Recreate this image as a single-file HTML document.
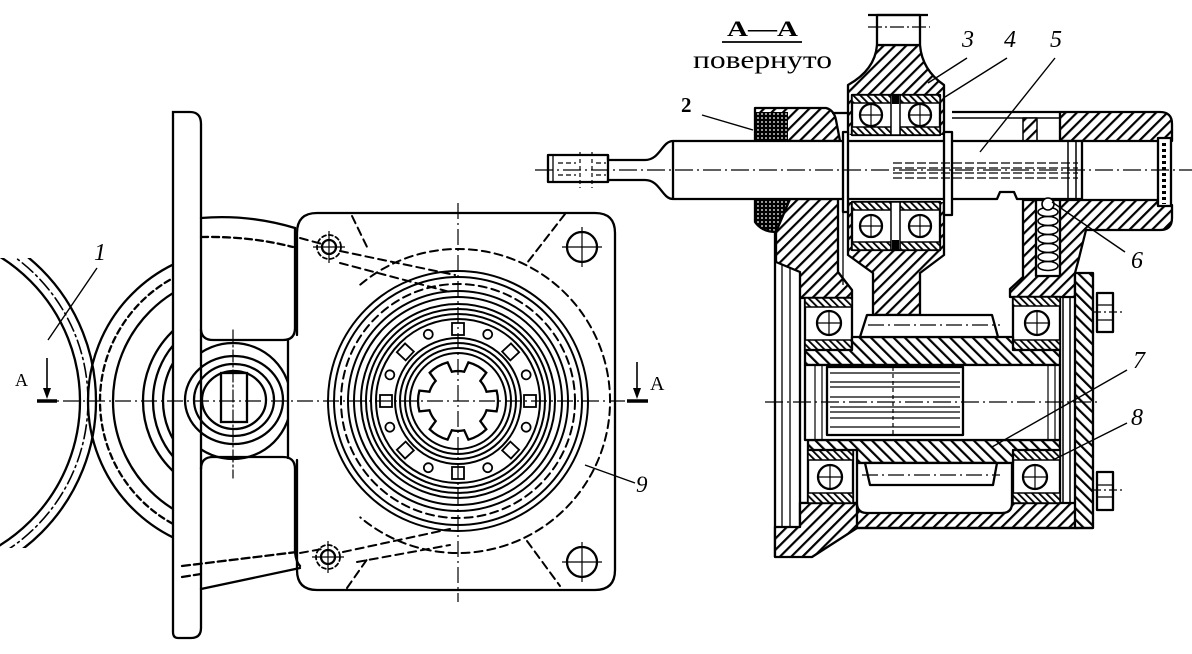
<!DOCTYPE html>
<html><head><meta charset="utf-8"><style>html,body{margin:0;padding:0;background:#fff}svg{display:block}</style></head>
<body>
<svg width="1192" height="654" viewBox="0 0 1192 654" xmlns="http://www.w3.org/2000/svg">
<defs>
<pattern id="hf" width="8" height="8" patternUnits="userSpaceOnUse" patternTransform="rotate(45)"><rect width="8" height="8" fill="#fff"/><rect x="0" y="0" width="2.2" height="8" fill="#000"/></pattern>
<pattern id="hb" width="8" height="8" patternUnits="userSpaceOnUse" patternTransform="rotate(-45)"><rect width="8" height="8" fill="#fff"/><rect x="0" y="0" width="2.2" height="8" fill="#000"/></pattern>
<pattern id="hr" width="5" height="5" patternUnits="userSpaceOnUse" patternTransform="rotate(-45)"><rect width="5" height="5" fill="#fff"/><rect x="0" y="0" width="1.8" height="5" fill="#000"/></pattern>
<pattern id="hd" width="4" height="4" patternUnits="userSpaceOnUse"><rect width="4" height="4" fill="#000"/><circle cx="2" cy="2" r="0.9" fill="#fff"/></pattern>
<clipPath id="cl1"><rect x="0" y="0" width="173" height="654"/></clipPath>
<clipPath id="cw"><rect x="0" y="258" width="140" height="290"/></clipPath>
<clipPath id="cboss"><rect x="201" y="330" width="87" height="140"/></clipPath>
</defs>

<!-- ============ LEFT VIEW ============ -->
<g fill="none" stroke="#000" stroke-width="2.3" stroke-linecap="round">
  <!-- wheel 1 arcs -->
  <g clip-path="url(#cw)">
    <circle cx="-90" cy="401" r="170"/>
    <circle cx="-90" cy="401" r="178" stroke-width="1.6" stroke-dasharray="14 4 2 4"/>
    <circle cx="-90" cy="401" r="186"/>
  </g>
  <!-- pulley arcs -->
  <g clip-path="url(#cl1)">
    <circle cx="240" cy="401" r="152"/>
    <circle cx="240" cy="401" r="140" stroke-dasharray="6 4"/>
    <circle cx="240" cy="401" r="127"/>
    <circle cx="240" cy="401" r="97"/>
    <circle cx="240" cy="401" r="87"/>
    <circle cx="240" cy="401" r="77"/>
  </g>
  <!-- plate -->
  <path d="M173,112 L190,112 Q201,112 201,124 L201,628 Q201,638 191,638 L178,638 Q173,638 173,632 Z" fill="#fff"/>
  <!-- upper block -->
  <path d="M201,218 Q248,214 295,228 L295,328 Q295,340 283,340 L213,340 Q202,340 201,330"/>
  <path d="M201,237 Q250,236 293,247" stroke-dasharray="7 4"/>
  <!-- boss -->
  <g clip-path="url(#cboss)"><circle cx="233" cy="401" r="58"/></g>
  <line x1="288" y1="340" x2="288" y2="458"/>
  <ellipse cx="234" cy="400" rx="49" ry="44"/>
  <ellipse cx="234" cy="400" rx="40" ry="36"/>
  <ellipse cx="234" cy="400" rx="32" ry="29"/>
  <rect x="221" y="373" width="26" height="49"/>
  <line x1="233" y1="330" x2="233" y2="478" stroke-width="1.2" stroke-dasharray="12 3 2 3"/>
  <!-- lower block -->
  <path d="M201,469 Q201,457 213,457 L283,457 Q295,457 295,469 L295,552 Q296,562 300,566"/>
  <line x1="201" y1="589" x2="300" y2="568"/>
  <path d="M182,566 L297,552" stroke-dasharray="8 4"/>
  <path d="M182,577 L201,574" stroke-dasharray="8 4"/>

  <!-- flange -->
  <path d="M297,335 L297,233 Q297,213 317,213 L595,213 Q615,213 615,233 L615,570 Q615,590 595,590 L317,590 Q297,590 297,570 L297,460"/>
  <!-- small bolts -->
  <circle cx="329" cy="247" r="7"/>
  <circle cx="329" cy="247" r="12" stroke-width="1.8" stroke-dasharray="4 3"/>
  <circle cx="328" cy="557" r="7"/>
  <circle cx="328" cy="557" r="12" stroke-width="1.8" stroke-dasharray="4 3"/>
  <!-- big holes -->
  <circle cx="582" cy="247" r="15"/>
  <circle cx="582" cy="562" r="15"/>
  <!-- dashed ribs -->
  <g stroke-dasharray="8 5" stroke-width="2">
    <path d="M300,238 L322,244"/>
    <path d="M352,216 L368,249"/>
    <path d="M340,251 L455,275"/>
    <path d="M340,263 L450,292"/>
    <path d="M300,553 L322,549"/>
    <path d="M343,552 L450,529"/>
    <path d="M357,562 L450,545"/>
    <path d="M347,588 L368,558"/>
    <path d="M565,214 L527,263"/>
    <path d="M527,541 L560,586"/>
    <path d="M360.3,284.6 A152,152 0 1 1 360.3,517.4"/>
    <circle cx="458" cy="401" r="117"/>
  </g>
  <!-- concentric circles -->
  <g stroke-width="2">
    <circle cx="458" cy="401" r="130"/>
    <circle cx="458" cy="401" r="124"/>
    <circle cx="458" cy="401" r="110"/>
    <circle cx="458" cy="401" r="104"/>
    <circle cx="458" cy="401" r="97"/>
    <circle cx="458" cy="401" r="92"/>
    <circle cx="458" cy="401" r="87"/>
    <circle cx="458" cy="401" r="82"/>
    <circle cx="458" cy="401" r="63"/>
    <circle cx="458" cy="401" r="58"/>
    <circle cx="458" cy="401" r="53"/>
    <circle cx="458" cy="401" r="48"/>
  </g>
  <!-- cage windows and balls -->
  <g stroke-width="1.8" transform="translate(458,401)">
    <rect x="66" y="-6" width="12" height="12" transform="rotate(0)"/>
    <rect x="66" y="-6" width="12" height="12" transform="rotate(43)"/>
    <rect x="66" y="-6" width="12" height="12" transform="rotate(90)"/>
    <rect x="66" y="-6" width="12" height="12" transform="rotate(137)"/>
    <rect x="66" y="-6" width="12" height="12" transform="rotate(180)"/>
    <rect x="66" y="-6" width="12" height="12" transform="rotate(223)"/>
    <rect x="66" y="-6" width="12" height="12" transform="rotate(270)"/>
    <rect x="66" y="-6" width="12" height="12" transform="rotate(317)"/>
    <circle cx="73" cy="0" r="4.5" transform="rotate(21)"/>
    <circle cx="73" cy="0" r="4.5" transform="rotate(66)"/>
    <circle cx="73" cy="0" r="4.5" transform="rotate(114)"/>
    <circle cx="73" cy="0" r="4.5" transform="rotate(159)"/>
    <circle cx="73" cy="0" r="4.5" transform="rotate(201)"/>
    <circle cx="73" cy="0" r="4.5" transform="rotate(246)"/>
    <circle cx="73" cy="0" r="4.5" transform="rotate(294)"/>
    <circle cx="73" cy="0" r="4.5" transform="rotate(339)"/>
  </g>
  <!-- spline hole -->
  <path d="M447.6,362.4 L451.8,371.7 A30,30 0 0 1 464.2,371.7 L468.4,362.4 A40,40 0 0 1 486.3,372.7 L480.3,380.9 A30,30 0 0 1 486.5,391.7 L496.6,390.6 A40,40 0 0 1 496.6,411.4 L486.5,410.3 A30,30 0 0 1 480.3,421.1 L486.3,429.3 A40,40 0 0 1 468.4,439.6 L464.2,430.3 A30,30 0 0 1 451.8,430.3 L447.6,439.6 A40,40 0 0 1 429.7,429.3 L435.7,421.1 A30,30 0 0 1 429.5,410.3 L419.4,411.4 A40,40 0 0 1 419.4,390.6 L429.5,391.7 A30,30 0 0 1 435.7,380.9 L429.7,372.7 A40,40 0 0 1 447.6,362.4 Z" fill="#fff"/>
</g>
<!-- thin lines left view -->
<g fill="none" stroke="#000" stroke-width="1.2">
  <line x1="37" y1="401" x2="648" y2="401" stroke-dasharray="16 4 2 4"/>
  <line x1="458" y1="203" x2="458" y2="602" stroke-dasharray="16 4 2 4"/>
  <line x1="313" y1="247" x2="345" y2="247"/><line x1="329" y1="231" x2="329" y2="263"/>
  <line x1="312" y1="557" x2="344" y2="557"/><line x1="328" y1="541" x2="328" y2="573"/>
  <line x1="562" y1="247" x2="602" y2="247"/><line x1="582" y1="227" x2="582" y2="267"/>
  <line x1="562" y1="562" x2="602" y2="562"/><line x1="582" y1="542" x2="582" y2="582"/>
  <!-- leaders -->
  <line x1="48" y1="340" x2="97" y2="268" stroke-width="1.4"/>
  <line x1="585" y1="465" x2="635" y2="483" stroke-width="1.4"/>
  <!-- section arrows -->
  <line x1="47" y1="358" x2="47" y2="390" stroke-width="1.6"/>
  <line x1="637" y1="362" x2="637" y2="390" stroke-width="1.6"/>
</g>
<polygon points="43,388 51,388 47,399" fill="#000"/>
<polygon points="633,388 641,388 637,399" fill="#000"/>
<line x1="37" y1="401" x2="57" y2="401" stroke="#000" stroke-width="3.5"/>
<line x1="627" y1="401" x2="648" y2="401" stroke="#000" stroke-width="3.5"/>

<!-- ============ SECTION VIEW ============ -->
<g stroke="#000" stroke-width="2.3" stroke-linejoin="round">
  <!-- seal housing -->
  <path d="M755,108 L826,108 Q834,110 836,120 L840,141 L755,141 Z" fill="url(#hf)"/>
  <rect x="755" y="112" width="33" height="29" fill="url(#hd)" stroke="none"/>
  <path d="M755,199 L790,199 L790,232 L776,232 Q762,232 755,222 Z" fill="url(#hd)"/>
  <line x1="832" y1="113" x2="848" y2="113"/>
  <!-- left wall -->
  <path d="M790,199 L838,199 L838,272 L852,290 L852,298 L800,298 L800,272 L776,262 L776,232 Z" fill="url(#hf)"/>
  <line x1="843" y1="212" x2="843" y2="285" stroke-width="1.3"/>
  <!-- left plate -->
  <line x1="775" y1="232" x2="775" y2="557"/>
  <line x1="782" y1="264" x2="782" y2="527" stroke-width="1.3"/>
  <line x1="790" y1="268" x2="790" y2="527" stroke-width="1.3"/>
  <line x1="800" y1="298" x2="800" y2="503"/>

  <!-- hub -->
  <path d="M877,45 L920,45 Q922,70 944,85 L944,255 L920,273 L920,315 L873,315 L873,273 L848,255 L848,85 Q875,70 877,45 Z" fill="url(#hf)"/>
  <rect x="877" y="15" width="43" height="30" fill="#fff"/>
  <line x1="868" y1="15" x2="928" y2="15"/>
  <line x1="868" y1="27" x2="930" y2="27" stroke-width="1.2" stroke-dasharray="14 3 2 3"/>
  <rect x="848" y="135" width="96" height="67" fill="#fff" stroke="none"/>
  <!-- hub upper bearings -->
  <rect x="852" y="95" width="88" height="40" fill="#fff"/>
  <rect x="852" y="95" width="39" height="8" fill="url(#hr)" stroke-width="1.5"/>
  <rect x="900" y="95" width="40" height="8" fill="url(#hr)" stroke-width="1.5"/>
  <rect x="852" y="127" width="39" height="8" fill="url(#hr)" stroke-width="1.5"/>
  <rect x="900" y="127" width="40" height="8" fill="url(#hr)" stroke-width="1.5"/>
  <circle cx="871" cy="115" r="11" fill="#fff"/>
  <circle cx="920" cy="115" r="11" fill="#fff"/>
  <rect x="891" y="95" width="9" height="40" fill="#fff" stroke-width="1.5"/>
  <rect x="892" y="95" width="7" height="9" fill="#000" stroke="none"/>
  <!-- hub lower bearings -->
  <rect x="852" y="202" width="88" height="48" fill="#fff"/>
  <rect x="852" y="202" width="39" height="8" fill="url(#hr)" stroke-width="1.5"/>
  <rect x="900" y="202" width="40" height="8" fill="url(#hr)" stroke-width="1.5"/>
  <rect x="852" y="242" width="39" height="8" fill="url(#hr)" stroke-width="1.5"/>
  <rect x="900" y="242" width="40" height="8" fill="url(#hr)" stroke-width="1.5"/>
  <circle cx="871" cy="226" r="11" fill="#fff"/>
  <circle cx="920" cy="226" r="11" fill="#fff"/>
  <rect x="891" y="202" width="9" height="48" fill="#fff" stroke-width="1.5"/>
  <rect x="892" y="240" width="7" height="10" fill="#000" stroke="none"/>

  <!-- tube top thin wall -->
  <line x1="952" y1="112" x2="1060" y2="112"/>
  <line x1="952" y1="118" x2="1060" y2="118" stroke-width="1.5"/>
  <rect x="1023" y="118" width="14" height="23" fill="url(#hf)" stroke-width="1.5"/>
  <!-- tube top block -->
  <path d="M1060,112 L1160,112 Q1172,112 1172,124 L1172,141 L1060,141 Z" fill="url(#hf)"/>
  <!-- tube bottom + spring housing -->
  <path d="M1010,297 L1010,289 L1023,277 L1023,200 L1158,200 L1158,205 L1172,205 L1172,218 Q1172,230 1160,230 L1086,230 L1078,262 L1075,273 L1075,297 Z" fill="url(#hf)"/>
  <rect x="1036" y="200" width="24" height="76" fill="#fff"/>
  <rect x="1158" y="138" width="13" height="68" fill="#fff"/>

  <!-- main shaft 5 -->
  <path d="M548,155 L608,155 L608,160 L645,160 C660,160 662,141 673,141 L1082,141 L1082,199 L1017,199 L1014,192 L1000,192 L997,199 L673,199 C662,199 660,180 645,180 L608,180 L608,182 L548,182 Z" fill="#fff"/>
  <line x1="608" y1="155" x2="608" y2="182"/>
  <line x1="673" y1="141" x2="673" y2="199"/>
  <line x1="553" y1="155" x2="553" y2="182" stroke-width="1.3"/>
  <!-- retaining rings -->
  <rect x="843" y="132" width="5" height="80" fill="#fff"/>
  <rect x="944" y="132" width="8" height="83" fill="#fff"/>
  <line x1="1076" y1="141" x2="1076" y2="199" stroke-width="1.5"/>

  <!-- upper-left bearing -->
  <rect x="805" y="298" width="47" height="52" fill="#fff"/>
  <rect x="805" y="298" width="47" height="9" fill="url(#hr)" stroke-width="1.5"/>
  <rect x="805" y="340" width="47" height="10" fill="url(#hr)" stroke-width="1.5"/>
  <circle cx="829" cy="323" r="12" fill="#fff"/>
  <!-- upper-right bearing -->
  <rect x="1013" y="297" width="47" height="53" fill="#fff"/>
  <rect x="1013" y="297" width="47" height="9" fill="url(#hr)" stroke-width="1.5"/>
  <rect x="1013" y="340" width="47" height="10" fill="url(#hr)" stroke-width="1.5"/>
  <circle cx="1037" cy="323" r="12" fill="#fff"/>

  <!-- bottom housing -->
  <rect x="800" y="503" width="278" height="25" fill="url(#hf)"/>
  <path d="M775,527 L800,527 L800,503 L857,503 L857,528 L812,557 L775,557 Z" fill="url(#hf)"/>
  <!-- right cover -->
  <rect x="1075" y="273" width="18" height="255" fill="url(#hb)"/>
  <line x1="1063" y1="297" x2="1063" y2="503" stroke-width="1.5"/>
  <line x1="1070" y1="297" x2="1070" y2="503" stroke-width="1.5"/>
  <line x1="857" y1="528" x2="1093" y2="528"/>

  <!-- lower bearings -->
  <rect x="808" y="450" width="45" height="53" fill="#fff"/>
  <rect x="808" y="450" width="45" height="10" fill="url(#hr)" stroke-width="1.5"/>
  <rect x="808" y="493" width="45" height="10" fill="url(#hr)" stroke-width="1.5"/>
  <circle cx="830" cy="477" r="12" fill="#fff"/>
  <rect x="1013" y="450" width="47" height="53" fill="#fff"/>
  <rect x="1013" y="450" width="47" height="10" fill="url(#hr)" stroke-width="1.5"/>
  <rect x="1013" y="493" width="47" height="10" fill="url(#hr)" stroke-width="1.5"/>
  <circle cx="1035" cy="477" r="12" fill="#fff"/>

  <!-- hollow shaft 7 -->
  <path d="M805,350 L852,350 L852,337 L1013,337 L1013,350 L1060,350 L1060,365 L805,365 Z" fill="url(#hb)"/>
  <path d="M808,440 L1060,440 L1060,450 L1013,450 L1013,463 L857,463 L857,450 L808,450 Z" fill="url(#hb)"/>
  <rect x="805" y="365" width="255" height="75" fill="#fff"/>
  <!-- upper gear -->
  <path d="M867,315 L992,315 L998,337 L860,337 Z" fill="#fff"/>
  <!-- cavity and lower gear -->
  <path d="M857,463 L857,503 Q857,513 867,513 L1002,513 Q1012,513 1012,503 L1012,463 Z" fill="#fff"/>
  <path d="M865,463 L997,463 L993,485 L870,485 Z" fill="#fff"/>
  <!-- spline shaft -->
  <rect x="827" y="367" width="136" height="68" fill="#fff"/>
  <!-- bolts -->
  <rect x="1097" y="293" width="16" height="39" fill="#fff"/>
  <rect x="1097" y="472" width="16" height="38" fill="#fff"/>
</g>

<!-- thin detail lines section -->
<g fill="none" stroke="#000" stroke-width="1.2">
  <line x1="535" y1="170" x2="1192" y2="170" stroke-dasharray="18 4 2 4"/>
  <line x1="765" y1="402" x2="1100" y2="402" stroke-dasharray="18 4 2 4"/>
  <line x1="868" y1="325" x2="1000" y2="325" stroke-dasharray="16 4 2 4"/>
  <line x1="862" y1="475" x2="1000" y2="475" stroke-dasharray="16 4 2 4"/>
  <!-- ball crosses -->
  <path d="M860,115 h22 M871,104 v22 M909,115 h22 M920,104 v22 M860,226 h22 M871,215 v22 M909,226 h22 M920,215 v22"/>
  <path d="M817,323 h24 M829,311 v24 M1025,323 h24 M1037,311 v24 M818,477 h24 M830,465 v24 M1023,477 h24 M1035,465 v24"/>
  <!-- end piece -->
  <path d="M580,152 v36 M592,152 v36" stroke-dasharray="4 3"/>
  <path d="M558,163 h18 M558,175 h18 M596,163 h10 M596,175 h10" stroke-dasharray="5 3"/>
  <!-- hidden spline in shaft -->
  <path d="M893,163 H1078 M893,168 H1078 M893,173 H1078 M893,178 H1078" stroke-dasharray="9 3"/>
  <line x1="1068" y1="141" x2="1068" y2="199" stroke-width="1.5"/>
  <!-- bore lines -->
  <path d="M815,365 V440 M822,365 V440 M1048,365 V440 M1055,365 V440" />
  <path d="M830,373 H960 M830,382 H960 M830,387 H960 M830,397 H960 M830,407 H960 M830,412 H960 M830,418 H960 M830,427 H960"/>
  <line x1="893" y1="367" x2="893" y2="435" stroke-dasharray="4 3"/>
  <!-- spring -->
  <g stroke-width="1.6">
    <ellipse cx="1048" cy="212" rx="10" ry="4.5"/><ellipse cx="1048" cy="221" rx="10" ry="4.5"/>
    <ellipse cx="1048" cy="230" rx="10" ry="4.5"/><ellipse cx="1048" cy="239" rx="10" ry="4.5"/>
    <ellipse cx="1048" cy="248" rx="10" ry="4.5"/><ellipse cx="1048" cy="257" rx="10" ry="4.5"/>
    <ellipse cx="1048" cy="266" rx="10" ry="4.5"/>
    <circle cx="1048" cy="204" r="6" fill="#fff"/>
  </g>
  <!-- cap dots -->
  <path d="M1164,143 V204" stroke-width="4" stroke-dasharray="3 3"/>
  <!-- bolt details -->
  <path d="M1097,305 H1113 M1097,320 H1113 M1097,485 H1113 M1097,497 H1113"/>
  <path d="M1093,312 H1125 M1093,490 H1125" stroke-dasharray="8 3 2 3"/>
  <!-- leaders -->
  <g stroke-width="1.4">
    <line x1="702" y1="115" x2="753" y2="130"/>
    <line x1="967" y1="58" x2="928" y2="83"/>
    <line x1="1007" y1="58" x2="945" y2="97"/>
    <line x1="1055" y1="58" x2="980" y2="152"/>
    <line x1="1125" y1="252" x2="1052" y2="202"/>
    <line x1="1127" y1="370" x2="992" y2="447"/>
    <line x1="1127" y1="423" x2="1053" y2="460"/>
  </g>
  <line x1="722" y1="42" x2="802" y2="42" stroke-width="1.8"/>
</g>

<!-- ============ TEXT ============ -->
<g font-family="'Liberation Serif', serif" fill="#000">
  <text x="94" y="260" font-size="24" font-style="italic">1</text>
  <text x="681" y="112" font-size="21" font-weight="bold">2</text>
  <text x="962" y="47" font-size="24" font-style="italic">3</text>
  <text x="1004" y="47" font-size="24" font-style="italic">4</text>
  <text x="1050" y="47" font-size="24" font-style="italic">5</text>
  <text x="1131" y="268" font-size="24" font-style="italic">6</text>
  <text x="1133" y="368" font-size="24" font-style="italic">7</text>
  <text x="1131" y="425" font-size="24" font-style="italic">8</text>
  <text x="636" y="492" font-size="23" font-style="italic">9</text>
  <text x="15" y="386" font-size="18">A</text>
  <text x="650" y="390" font-size="20">A</text>
  <text x="727" y="36" font-size="22" font-weight="bold" textLength="71" lengthAdjust="spacingAndGlyphs">A—A</text>
  <text x="693" y="68" font-size="25" textLength="139" lengthAdjust="spacingAndGlyphs">повернуто</text>
</g>
</svg>
</body></html>
